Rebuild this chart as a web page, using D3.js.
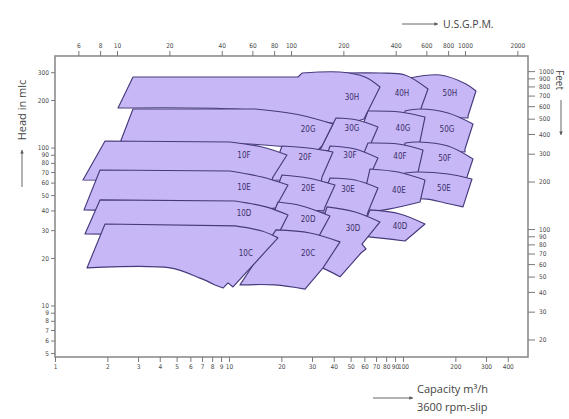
<!DOCTYPE html>
<html>
<head>
<meta charset="utf-8">
<script src="https://cdn.jsdelivr.net/npm/d3@7"></script>
<style>
  body { margin: 0; background: #fff; }
  .tick text { font-family: "Liberation Sans Narrow", "DejaVu Sans Condensed", sans-serif; font-size: 6.5px; fill: #4a4a4a; }
  .tick line { stroke: #7a7a7a; }
  .title { font-family: "Open Sans", sans-serif; fill: #444; }
  .lbl { font-family: "Liberation Sans Narrow", "DejaVu Sans Condensed", sans-serif; font-size: 8px; fill: #3b2f6a; }
</style>
</head>
<body>
<svg id="chart" width="569" height="419"></svg>
<script>
// tick values
var qTicks = [1, 2, 3, 4, 5, 6, 7, 8, 9, 10, 20, 30, 40, 50, 60, 70, 80, 90, 100, 200, 300, 400];
var headTicks = [5, 6, 7, 8, 9, 10, 20, 30, 40, 50, 60, 70, 80, 90, 100, 200, 300];
var gpmTicks = [6, 8, 10, 20, 40, 60, 80, 100, 200, 400, 600, 800, 1000, 2000];
var feetTicks = [20, 30, 40, 50, 60, 70, 80, 90, 100, 200, 300, 400, 500, 600, 700, 800, 900, 1000];

var gpmPerM3h = 4.403,
    ftPerM = 3.281;

// pump ranges as [capacity m3/h, head m]
// top = upper curve (left to right), right = extra points down the right side,
// bot = lower curve (left to right), left = extra points back up the left side
var rowH = [
  {name: "30H", top: [[26.28, 296.4], [43.45, 300.8], [60.48, 279.7], [73.76, 241.8]], right: [[59.69, 151.6]],
   bot: [[2.302, 178.0], [13.20, 172.9], [27.35, 151.6], [46.42, 139.0]], left: [[2.808, 279.7], [24.92, 279.7]]},
  {name: "40H", top: [[46.42, 296.4], [73.76, 296.4], [102.7, 287.9], [139.2, 234.8]], right: [[125.3, 170.4]],
   bot: [[52.98, 165.5], [96.1, 158.4], [123.6, 158.4]]},
  {name: "50H", top: [[109.7, 275.6], [163.2, 287.9], [230.2, 252.6], [262.7, 228.0]], right: [[236.4, 158.4]],
   bot: [[102.7, 160.7], [163.2, 156.1], [236.4, 153.9]]}
];
var rowG = [
  {name: "20G", top: [[14.11, 175.4], [25.59, 160.7], [39.60, 141.0]], right: [[34.24, 102.3]],
   bot: [[2.363, 106.9], [13.20, 105.3], [32.48, 96.5]], left: [[2.808, 175.4]]},
  {name: "30G", top: [[41.21, 153.9], [54.40, 149.4], [71.83, 135.0]], right: [[62.93, 96.5]],
   bot: [[33.35, 96.5], [49.6, 92.4], [62.10, 89.7]]},
  {name: "40G", top: [[62.93, 170.4], [96.1, 167.9], [133.8, 156.1]], right: [[125.3, 110.0]],
   bot: [[52.98, 102.3], [89.9, 100.8], [122.0, 97.9]]},
  {name: "50G", top: [[102.7, 170.4], [125.3, 175.4], [181.4, 165.5], [252.5, 141.0]], right: [[227.2, 97.9]],
   bot: [[96.1, 102.3], [163.2, 96.5], [227.2, 93.8]]}
];
var rowF = [
  {name: "10F", top: [[10.13, 108.5], [15.48, 100.8], [21.54, 89.7]], right: [[17.90, 65.1]],
   bot: [[1.448, 62.3], [13.20, 61.4], [17.66, 62.3]], left: [[1.939, 110.0]]},
  {name: "20F", top: [[20.16, 102.3], [28.45, 99.4], [39.60, 93.8]], right: [[34.24, 65.1]],
   bot: [[17.20, 62.3], [25.59, 61.4], [33.79, 59.7]]},
  {name: "30F", top: [[38.06, 102.3], [52.98, 97.9], [71.83, 85.9]], right: [[62.93, 62.3]],
   bot: [[32.48, 60.5], [49.6, 58.8], [62.10, 57.9]]},
  {name: "40F", top: [[62.93, 106.9], [93.6, 105.3], [130.3, 96.5]], right: [[122.0, 70.0]],
   bot: [[52.98, 67.0], [89.9, 66.1], [120.4, 64.2]]},
  {name: "50F", top: [[102.7, 106.9], [122.0, 108.5], [181.4, 102.3], [252.5, 84.7]], right: [[233.3, 65.1]],
   bot: [[96.1, 65.1], [163.2, 64.2], [230.2, 63.2]]}
];
var rowE = [
  {name: "10E", top: [[10.13, 71.1], [15.48, 65.1], [21.83, 57.9]], right: [[18.87, 43.3]],
   bot: [[1.468, 40.3], [13.20, 39.7], [18.62, 41.5]], left: [[1.814, 72.1]]},
  {name: "20E", top: [[20.16, 67.0], [28.45, 64.2], [40.67, 57.9]], right: [[35.63, 42.1]],
   bot: [[17.20, 42.1], [25.59, 40.3], [35.16, 39.7]]},
  {name: "30E", top: [[38.06, 64.2], [52.98, 62.3], [71.83, 55.5]], right: [[62.93, 39.1]],
   bot: [[32.48, 39.1], [49.6, 36.9], [62.10, 36.9]]},
  {name: "40E", top: [[64.62, 73.2], [93.6, 70.0], [133.8, 62.3]],
   bot: [[56.62, 38.5], [84.2, 40.9], [125.3, 45.2]]},
  {name: "50E", top: [[102.7, 69.0], [122.0, 70.0], [181.4, 68.0], [249.2, 63.2]],
   bot: [[109.7, 47.2], [137.4, 47.2], [174.3, 44.6], [221.2, 42.1]]}
];
var rowD = [
  {name: "10D", top: [[10.83, 45.9], [16.32, 42.1], [21.83, 37.4]], right: [[19.12, 28.0]],
   bot: [[1.487, 28.4], [13.20, 27.6], [18.87, 27.6]], left: [[1.814, 46.6]]},
  {name: "20D", top: [[19.12, 45.2], [26.28, 42.7], [38.06, 36.9]], right: [[32.48, 26.8]],
   bot: [[16.10, 27.6], [23.95, 27.2], [32.05, 26.0]]},
  {name: "30D", top: [[36.58, 42.1], [52.98, 39.1], [73.76, 33.8]], right: [[58.13, 24.5], [61.29, 22.8], [57.36, 21.5]],
   bot: [[29.21, 18.1], [34.24, 17.3], [43.45, 15.2]]},
  {name: "40D", top: [[64.62, 40.3], [96.1, 38.0], [133.8, 32.8]],
   bot: [[56.62, 27.6], [82.0, 26.4], [102.7, 25.6]]}
];
var rowC = [
  {name: "10C", top: [[10.83, 31.9], [15.48, 29.6], [19.12, 26.8]], right: [[10.54, 13.1], [9.87, 13.9], [9.24, 12.9]],
   bot: [[1.527, 17.3], [4.581, 17.3], [6.813, 14.9], [8.31, 13.5]], left: [[1.939, 32.8]]},
  {name: "20C", top: [[18.62, 30.1], [29.21, 28.8], [43.45, 25.3]], right: [[34.70, 17.3]],
   bot: [[11.57, 13.5], [18.38, 13.5], [27.35, 12.7]]}
];

// label anchor points [name, capacity, head]
var labels = [
  ["30H", 50.9, 209], ["40H", 98.7, 221], ["50H", 186, 221],
  ["20G", 28.5, 131], ["30G", 50.9, 133], ["40G", 100, 133], ["50G", 179, 131],
  ["10F", 12.2, 89.7], ["20F", 27.4, 87.2], ["30F", 49.6, 89.7], ["40F", 96.1, 88.4], ["50F", 174, 85.9],
  ["10E", 12.2, 56.3], ["20E", 28.5, 55.5], ["30E", 48.3, 54.7], ["40E", 94.8, 53.9], ["50E", 172, 55.5],
  ["10D", 12.2, 38.5], ["20D", 28.5, 35.3], ["30D", 51.6, 31.0], ["40D", 96.1, 31.9],
  ["10C", 12.5, 21.5], ["20C", 28.5, 21.5]
];

var svg = d3.select("#chart");
var pLeft = 55, pRight = 528, pTop = 56, pBottom = 357;

var x = d3.scaleLog().domain([1, 523]).range([pLeft, pRight]);
var y = d3.scaleLog().domain([4.72, 380]).range([pBottom, pTop]);
var xg = d3.scaleLog().domain([1 * gpmPerM3h, 523 * gpmPerM3h]).range([pLeft, pRight]);
var yf = d3.scaleLog().domain([4.72 * ftPerM, 380 * ftPerM]).range([pBottom, pTop]);

var arc = d3.line()
    .x(function (d) { return x(d[0]); })
    .y(function (d) { return y(d[1]); })
    .curve(d3.curveCatmullRom.alpha(0.5));

function pt(d) { return x(d[0]) + "," + y(d[1]); }

function outline(s) {
  var p = arc(s.top);
  (s.right || []).forEach(function (d) { p += "L" + pt(d); });
  p += "L" + arc(s.bot.slice().reverse()).slice(1);
  (s.left || []).forEach(function (d) { p += "L" + pt(d); });
  return p + "Z";
}

// rows top to bottom, right-hand pumps first so the left ones sit on top
var shapes = [];
[rowH, rowG, rowF, rowE, rowD, rowC].forEach(function (row) {
  shapes = shapes.concat(row.slice().reverse());
});

svg.append("g")
  .selectAll("path")
  .data(shapes)
  .enter()
  .append("path")
    .attr("d", outline)
    .attr("fill", "#c7b7f6")
    .attr("stroke", "#463a7c")
    .attr("stroke-width", 1.15)
    .attr("stroke-linejoin", "round");

svg.append("g")
  .selectAll("text")
  .data(labels)
  .enter()
  .append("text")
    .attr("class", "lbl")
    .attr("x", function (d) { return x(d[1]); })
    .attr("y", function (d) { return y(d[2]) + 3; })
    .attr("text-anchor", "middle")
    .text(function (d) { return d[0]; });

// frame
svg.append("rect")
    .attr("x", pLeft).attr("y", pTop)
    .attr("width", pRight - pLeft).attr("height", pBottom - pTop)
    .attr("fill", "none")
    .attr("stroke", "#8c8c8c")
    .attr("stroke-width", 1.6);

function clean(g) { g.select(".domain").remove(); }

svg.append("g")
    .attr("transform", "translate(0," + pBottom + ")")
    .call(d3.axisBottom(x).tickValues(qTicks).tickFormat(function (d) { return d; }).tickSize(5).tickPadding(2))
    .call(clean);

svg.append("g")
    .attr("transform", "translate(0," + pTop + ")")
    .call(d3.axisTop(xg).tickValues(gpmTicks).tickFormat(function (d) { return d; }).tickSize(5).tickPadding(3))
    .call(clean);

svg.append("g")
    .attr("transform", "translate(" + pLeft + ",0)")
    .call(d3.axisLeft(y).tickValues(headTicks).tickFormat(function (d) { return d; }).tickSize(4).tickPadding(2))
    .call(clean);

svg.append("g")
    .attr("transform", "translate(" + pRight + ",0)")
    .call(d3.axisRight(yf).tickValues(feetTicks).tickFormat(function (d) { return d; }).tickSize(7).tickPadding(4))
    .call(clean);

svg.selectAll(".tick text").attr("font-size", null).attr("font-family", null);

// titles and arrows
function arrow(x1, y1, x2, y2) {
  var a = Math.atan2(y2 - y1, x2 - x1), s = 4;
  svg.append("line")
      .attr("x1", x1).attr("y1", y1).attr("x2", x2).attr("y2", y2)
      .attr("stroke", "#555").attr("stroke-width", 0.9);
  svg.append("path")
      .attr("d", "M" + x2 + "," + y2 +
        "L" + (x2 - s * Math.cos(a - 0.45)) + "," + (y2 - s * Math.sin(a - 0.45)) +
        "L" + (x2 - s * Math.cos(a + 0.45)) + "," + (y2 - s * Math.sin(a + 0.45)) + "Z")
      .attr("fill", "#555");
}

svg.append("text").attr("class", "title")
    .attr("x", 443).attr("y", 28)
    .attr("font-size", 10.5)
    .text("U.S.G.P.M.");
arrow(402, 24, 438, 24);

svg.append("text").attr("class", "title")
    .attr("x", 417).attr("y", 393)
    .attr("font-size", 11)
    .text("Capacity m³/h");
svg.append("text").attr("class", "title")
    .attr("x", 417).attr("y", 411)
    .attr("font-size", 11)
    .text("3600 rpm-slip");
arrow(373, 398, 413, 398);

svg.append("text").attr("class", "title")
    .attr("transform", "translate(26,110) rotate(-90)")
    .attr("text-anchor", "middle")
    .attr("font-size", 11)
    .text("Head in mlc");
arrow(22, 187, 22, 150);

svg.append("text").attr("class", "title")
    .attr("transform", "translate(556,80) rotate(90)")
    .attr("text-anchor", "middle")
    .attr("font-size", 10)
    .text("Feet");
arrow(561, 100, 561, 135);
</script>
</body>
</html>
